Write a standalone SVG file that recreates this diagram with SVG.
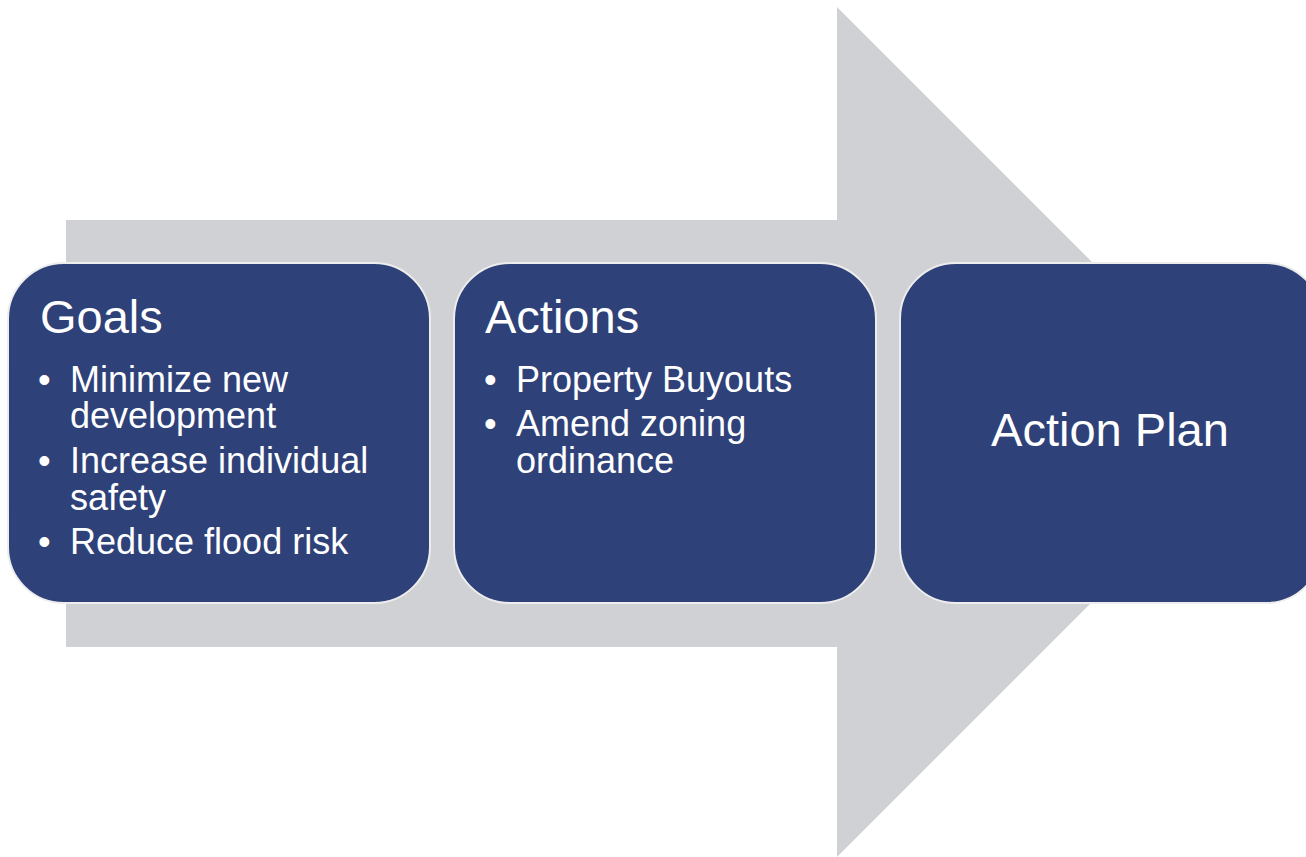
<svg xmlns="http://www.w3.org/2000/svg" width="1306" height="857" viewBox="0 0 1306 857">
  <style>
    .box { fill: #2E4179; stroke: #EDEDED; stroke-width: 2; }
    .t { fill: #FFFFFF; font-family: "Liberation Sans", Arial, sans-serif; }
    .h { font-size: 47px; }
    .b { font-size: 36px; }
  </style>
  <rect width="1306" height="857" fill="#FFFFFF"/>
  <g id="connectors">
    <polygon id="big-arrow" points="66,220 837,220 837,7 1262,432 837,857 837,647 66,647" fill="#D0D1D5"/>
  </g>
  <g id="goals">
    <rect class="box" x="8" y="263" width="422" height="340" rx="56" ry="56"/>
    <text class="t h" x="40" y="333">Goals</text>
    <text class="t b" x="38" y="392">•</text>
    <text class="t b" x="70" y="392">Minimize new<tspan x="70" dy="36">development</tspan></text>
    <text class="t b" x="38" y="473">•</text>
    <text class="t b" x="70" y="473">Increase individual<tspan x="70" dy="37">safety</tspan></text>
    <text class="t b" x="38" y="554">•</text>
    <text class="t b" x="70" y="554">Reduce flood risk</text>
  </g>
  <g id="actions">
    <rect class="box" x="454" y="263" width="422" height="340" rx="56" ry="56"/>
    <text class="t h" x="485" y="333">Actions</text>
    <text class="t b" x="484" y="392">•</text>
    <text class="t b" x="516" y="392">Property Buyouts</text>
    <text class="t b" x="484" y="436">•</text>
    <text class="t b" x="516" y="436">Amend zoning<tspan x="516" dy="37">ordinance</tspan></text>
  </g>
  <g id="action-plan">
    <rect class="box" x="900" y="263" width="422" height="340" rx="56" ry="56"/>
    <text class="t h" x="1110" y="446" text-anchor="middle">Action Plan</text>
  </g>
</svg>
